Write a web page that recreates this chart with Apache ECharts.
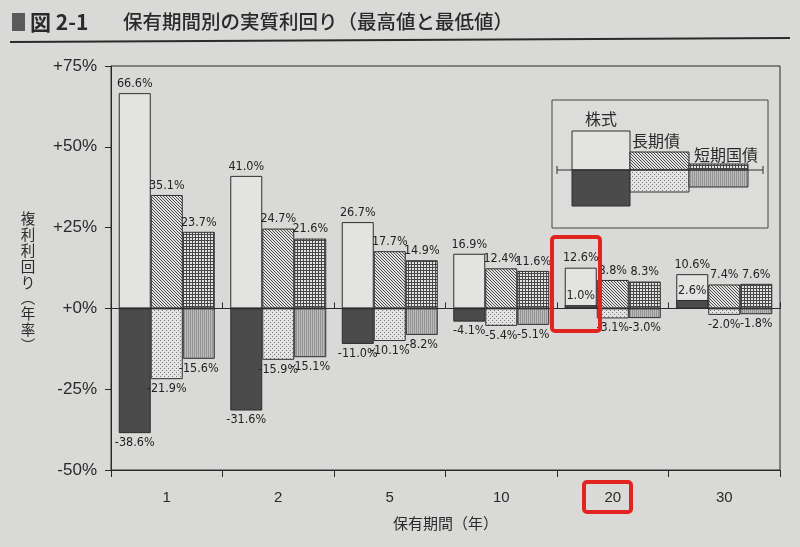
<!DOCTYPE html>
<html><head><meta charset="utf-8">
<script src="https://cdn.jsdelivr.net/npm/echarts@6/dist/echarts.min.js"></script>
<style>html,body{margin:0;padding:0;background:#d9d9d7;}#c{width:800px;height:547px;}</style>
</head><body><div id="c"></div>
<script>
const categories = ['1','2','5','10','20','30'];
const stockMax = [66.6, 41.0, 26.7, 16.9, 12.6, 10.6];
const stockMin = [-38.6, -31.6, -11.0, -4.1, 1.0, 2.6];
const bondMax  = [35.1, 24.7, 17.7, 12.4, 8.8, 7.4];
const bondMin  = [-21.9, -15.9, -10.1, -5.4, -3.1, -2.0];
const billMax  = [23.7, 21.6, 14.9, 11.6, 8.3, 7.6];
const billMin  = [-15.6, -15.1, -8.2, -5.1, -3.0, -1.8];

const JP = '"Noto Sans CJK JP","Noto Sans",sans-serif';
const NUM = '"Liberation Sans Narrow","DejaVu Sans Condensed","Liberation Sans",Arial,sans-serif';
const AX = '"Liberation Sans",Arial,sans-serif';

function pat(w,h,draw){const c=document.createElement('canvas');c.width=w;c.height=h;const g=c.getContext('2d');draw(g);return {image:c,repeat:'repeat'};}
const light='#e3e3e1';
const fillStockMax = '#e3e3e1';
const fillStockMin = '#4b4b4b';
const fillBondMax = pat(3,3,g=>{g.fillStyle=light;g.fillRect(0,0,3,3);g.fillStyle='#4a4a4a';for(let i=0;i<3;i++)g.fillRect(i,i,1,1);});
const fillBondMin = pat(4,4,g=>{g.fillStyle=light;g.fillRect(0,0,4,4);g.fillStyle='#7a7a7a';g.fillRect(0,0,1,1);g.fillRect(2,2,1,1);});
const fillBillMax = pat(3,3,g=>{g.fillStyle=light;g.fillRect(0,0,3,3);g.fillStyle='#474747';g.fillRect(0,0,3,1);g.fillRect(0,0,1,3);});
const fillBillMin = pat(2,1,g=>{g.fillStyle='#bcbcba';g.fillRect(0,0,2,1);g.fillStyle='#939393';g.fillRect(0,0,1,1);});

const fmt = v => v.toFixed(1) + '%';
const labelBase = {show:true, fontFamily:NUM, fontSize:12.5, color:'#222', distance:3,
  formatter: p => fmt(p.value)};
function maxSeries(name, vals, fill){
  return {name, type:'bar', xAxisIndex:0, barWidth:32, barGap:'0%',
    data: vals,
    itemStyle:{color:fill, borderColor:'#2e2e2e', borderWidth:1},
    label:Object.assign({}, labelBase, {position:'top'}), z:2};
}
function minSeries(name, vals, fill){
  return {name, type:'bar', xAxisIndex:1, barWidth:32, barGap:'0%',
    data: vals.map(v => ({value:v, label:{position: v<0 ? 'bottom' : 'top'}})),
    itemStyle:{color:fill, borderColor:'#2e2e2e', borderWidth:1},
    label:Object.assign({}, labelBase), z:3};
}

const chart = echarts.init(document.getElementById('c'), null, {renderer:'canvas'});
chart.setOption({
  backgroundColor:'#d9d9d7',
  animation:false,
  grid:{left:111, right:20, top:66, bottom:77, show:true, borderColor:'#2a2a2a', borderWidth:1, backgroundColor:'transparent'},
  xAxis:[
    {type:'category', data:categories, position:'bottom',
      axisLine:{onZero:false, lineStyle:{color:'#2a2a2a', width:1}},
      axisTick:{show:true, length:7, lineStyle:{color:'#2a2a2a'}},
      axisLabel:{fontFamily:AX, fontSize:15, color:'#2a2a2a', margin:20},
      name:'保有期間（年）', nameLocation:'middle', nameGap:46,
      nameTextStyle:{fontFamily:JP, fontSize:15, color:'#2a2a2a'}},
    {type:'category', data:categories, position:'bottom',
      axisLine:{onZero:true, lineStyle:{color:'#2a2a2a', width:1}},
      axisTick:{show:true, length:6, inside:true, lineStyle:{color:'#2a2a2a'}},
      axisLabel:{show:false}}
  ],
  yAxis:{type:'value', min:-50, max:75, interval:25,
    axisLine:{show:true, lineStyle:{color:'#2a2a2a'}},
    axisTick:{show:true, length:6, lineStyle:{color:'#2a2a2a'}},
    splitLine:{show:false},
    axisLabel:{fontFamily:AX, fontSize:17, color:'#2a2a2a', margin:14,
      formatter: v => (v >= 0 ? '+' : '') + v + '%'}},
  series:[
    maxSeries('株式', stockMax, fillStockMax),
    maxSeries('長期債', bondMax, fillBondMax),
    maxSeries('短期国債', billMax, fillBillMax),
    minSeries('株式min', stockMin, fillStockMin),
    minSeries('長期債min', bondMin, fillBondMin),
    minSeries('短期国債min', billMin, fillBillMin)
  ],
  graphic:[
    {type:'rect', shape:{x:12,y:13,width:13,height:18}, style:{fill:'#5a5a5a'}},
    {type:'text', x:30, y:22, style:{text:'図 2-1', fontFamily:JP, fontSize:21, fontWeight:'bold', fill:'#2a2a2a', verticalAlign:'middle'}},
    {type:'text', x:123, y:22, style:{text:'保有期間別の実質利回り（最高値と最低値）', fontFamily:JP, fontSize:19.5, fontWeight:500, fill:'#2a2a2a', verticalAlign:'middle'}},
    {type:'line', shape:{x1:10,y1:42,x2:790,y2:38}, style:{stroke:'#2a2a2a', lineWidth:2}},
    {type:'text', x:28, y:282, style:{text:'複\n利\n利\n回\nり\n︵\n年\n率\n︶', fontFamily:JP, fontSize:14.5, lineHeight:15.8, fill:'#2a2a2a', align:'center', verticalAlign:'middle'}},
    // legend
    {type:'rect', shape:{x:552,y:100,width:216,height:128}, style:{fill:'#dcdcda', stroke:'#444', lineWidth:1}, z:10},
    {type:'rect', shape:{x:572,y:131,width:58,height:39}, style:{fill:fillStockMax, stroke:'#2e2e2e', lineWidth:1}, z:11},
    {type:'rect', shape:{x:572,y:170,width:58,height:36}, style:{fill:fillStockMin, stroke:'#2e2e2e', lineWidth:1}, z:11},
    {type:'rect', shape:{x:630,y:152,width:59,height:18}, style:{fill:fillBondMax, stroke:'#2e2e2e', lineWidth:1}, z:11},
    {type:'rect', shape:{x:630,y:170,width:59,height:22}, style:{fill:fillBondMin, stroke:'#2e2e2e', lineWidth:1}, z:11},
    {type:'rect', shape:{x:689,y:164,width:59,height:6}, style:{fill:fillBillMax, stroke:'#2e2e2e', lineWidth:1}, z:11},
    {type:'rect', shape:{x:689,y:170,width:59,height:17}, style:{fill:fillBillMin, stroke:'#2e2e2e', lineWidth:1}, z:11},
    {type:'line', shape:{x1:557,y1:170,x2:763,y2:170}, style:{stroke:'#2e2e2e', lineWidth:1}, z:12},
    {type:'line', shape:{x1:557,y1:166,x2:557,y2:174}, style:{stroke:'#2e2e2e', lineWidth:1}, z:12},
    {type:'line', shape:{x1:763,y1:166,x2:763,y2:174}, style:{stroke:'#2e2e2e', lineWidth:1}, z:12},
    {type:'text', x:601, y:119, style:{text:'株式', fontFamily:JP, fontSize:16, fill:'#2a2a2a', align:'center', verticalAlign:'middle'}, z:12},
    {type:'text', x:632, y:141, style:{text:'長期債', fontFamily:JP, fontSize:16, fill:'#2a2a2a', verticalAlign:'middle'}, z:12},
    {type:'text', x:694, y:155, style:{text:'短期国債', fontFamily:JP, fontSize:16, fill:'#2a2a2a', verticalAlign:'middle'}, z:12},
    // red annotation boxes
    {type:'rect', shape:{x:552,y:237,width:48,height:94,r:3}, style:{fill:'transparent', stroke:'#e2231f', lineWidth:4}, z:20},
    {type:'rect', shape:{x:584,y:482,width:47,height:30,r:3}, style:{fill:'transparent', stroke:'#e2231f', lineWidth:4}, z:20}
  ]
});
</script>
</body></html>
